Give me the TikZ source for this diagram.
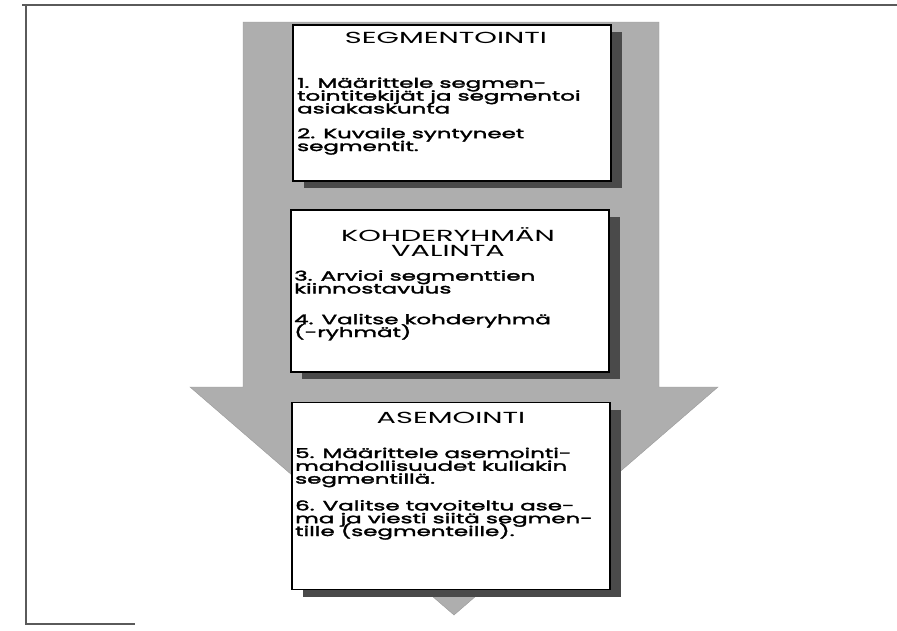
\documentclass[tikz,border=0pt]{standalone}
\usepackage{fontspec}
\setmainfont{Poppins}[FakeStretch=1.8]
\newfontfamily\bodyfont{Poppins}[FakeStretch=1.7,FakeBold=2.4]
\usetikzlibrary{shadows,positioning}
\definecolor{arrowgray}{HTML}{AEAEAE}
\definecolor{arrowedge}{HTML}{999999}
\definecolor{shadowgray}{HTML}{4A4A4A}
\definecolor{framegray}{HTML}{5A5A5A}
\newcommand{\tightlines}{\setlength{\lineskiplimit}{-30pt}\setlength{\lineskip}{0pt}}

\begin{document}
\begin{tikzpicture}[x=1pt,y=-1pt,
  stepbox/.style={draw=black,line width=1.3pt,fill=white,
    minimum width=318pt,inner sep=0pt,
    drop shadow={shadow xshift=11pt,shadow yshift=-7pt,fill=shadowgray,opacity=1}},
  head/.style={font={\fontsize{16}{15}\selectfont\tightlines},
    align=center,inner sep=0pt,anchor=base},
  items/.style={font={\bodyfont\fontsize{13.5}{12.8}\selectfont\tightlines},
    align=left,inner sep=0pt,anchor=base west},
  frame/.style={draw=framegray,line width=1.2pt}
]
\useasboundingbox (0,0) rectangle (897,630);
\draw[frame] (22,5) -- (897,5);
\draw[frame] (26,5) -- (26,624) -- (135,624);
\filldraw[fill=arrowgray,draw=arrowedge] (243,22) -- (659,22) -- (659,387) -- (718,387)
  -- (454,615) -- (190,387) -- (243,387) -- cycle;

\node[stepbox,minimum height=156pt] (seg) at (452,103) {};
\node[stepbox,minimum height=162pt] (koh) at (450,291) {};
\node[stepbox,minimum height=187pt] (ase) at (451,496) {};

\node[head] (segH) at (446,43) {SEGMENTOINTI};
\node[items] (segT) at (297,151) {1. Määrittele segmen-\\tointitekijät ja segmentoi\\asiakaskunta\\[12pt]
  2. Kuvaile syntyneet\\segmentit.};

\node[head] (kohH) at (448,256) {KOHDERYHMÄN\\VALINTA};
\node[items] (kohT) at (294,337) {3. Arvioi segmenttien\\kiinnostavuus\\[18pt]
  4. Valitse kohderyhmä\\(-ryhmät)};

\node[head] (aseH) at (451,423) {ASEMOINTI};
\node[items] (aseT) at (295,536) {5. Määrittele asemointi-\\mahdollisuudet kullakin\\segmentillä.\\[14pt]
  6. Valitse tavoiteltu ase-\\ma ja viesti siitä segmen-\\tille (segmenteille).};
\end{tikzpicture}
\end{document}
